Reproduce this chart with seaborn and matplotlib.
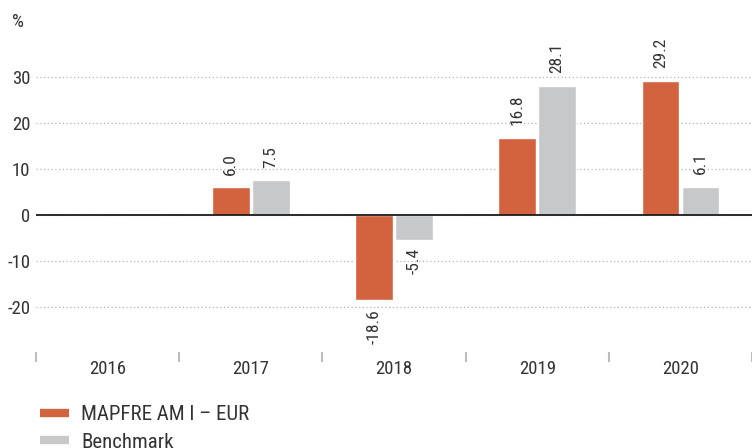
import numpy as np
import pandas as pd
import matplotlib
matplotlib.use("Agg")
import matplotlib.pyplot as plt
from matplotlib.lines import Line2D
import seaborn as sns

years = ['2016', '2017', '2018', '2019', '2020']
fund = [np.nan, 6.0, -18.6, 16.8, 29.2]
bench = [np.nan, 7.5, -5.4, 28.1, 6.1]
series = ['MAPFRE AM I – EUR', 'Benchmark']
colors = ['#D3623F', '#C7C8CA']

df = pd.DataFrame({'year': years, series[0]: fund, series[1]: bench})
df = df.melt(id_vars='year', var_name='series', value_name='value')

sns.set_theme(style='white')
plt.rcParams['font.family'] = ['Roboto Condensed', 'Roboto', 'DejaVu Sans']
text_color = '#333333'

fig = plt.figure(figsize=(7.52, 4.48), dpi=100)
ax = fig.add_axes([36 / 752, 1 - 352 / 448, 716 / 752, 298 / 448])

sns.barplot(data=df, x='year', y='value', hue='series', hue_order=series,
            palette=colors, saturation=1, width=0.56, gap=0.06,
            legend=False, ax=ax)

# value labels, rotated
for bars in ax.containers:
    for bar in bars:
        h = bar.get_height()
        if np.isnan(h):
            continue
        x = bar.get_x() + bar.get_width() / 2
        if h >= 0:
            ax.annotate(f'{h:.1f}', (x, h), xytext=(0, 9), textcoords='offset points',
                        rotation=90, ha='center', va='bottom', fontsize=12.5, color=text_color)
        else:
            ax.annotate(f'{h:.1f}', (x, h), xytext=(0, -6), textcoords='offset points',
                        rotation=90, ha='center', va='top', fontsize=12.5, color=text_color)

ax.set_xlim(-0.5, 4.464)
ax.set_ylim(-29.8, 35)
ax.set_yticks([-20, -10, 0, 10, 20, 30])
ax.set_yticklabels(['-20', '-10', '0', '10', '20', '30'])
ax.grid(axis='y', linestyle=(0, (1, 2)), color='#b5b5b5', linewidth=0.9)
ax.set_axisbelow(True)
ax.axhline(0, color='#1a1a1a', linewidth=1.3, zorder=3)

for s in ax.spines.values():
    s.set_visible(False)

ax.set_xlabel('')
ax.set_ylabel('')
ax.tick_params(axis='y', left=False, length=0, pad=4, labelsize=13.5, labelcolor=text_color)
ax.set_xticks(np.arange(-0.5, 4.6, 1), minor=True)
ax.tick_params(axis='x', which='major', bottom=False, length=0, pad=6,
               labelsize=13.5, labelcolor=text_color)
ax.tick_params(axis='x', which='minor', bottom=True, length=7.5, width=1.5,
               color='#bdbdbd', direction='out')

fig.text(18 / 752, 1 - 22 / 448, '%', ha='center', va='center', fontsize=13.5, color=text_color)

handles = [Line2D([], [], color=c, linewidth=6, solid_capstyle='butt') for c in colors]
fig.legend(handles, series, loc='upper left', bbox_to_anchor=(30 / 752, 1 - 395 / 448),
           frameon=False, fontsize=15, handlelength=1.35, handletextpad=0.6,
           labelspacing=0.4, borderpad=0, labelcolor=text_color)

fig.savefig('out.png', dpi=100)
